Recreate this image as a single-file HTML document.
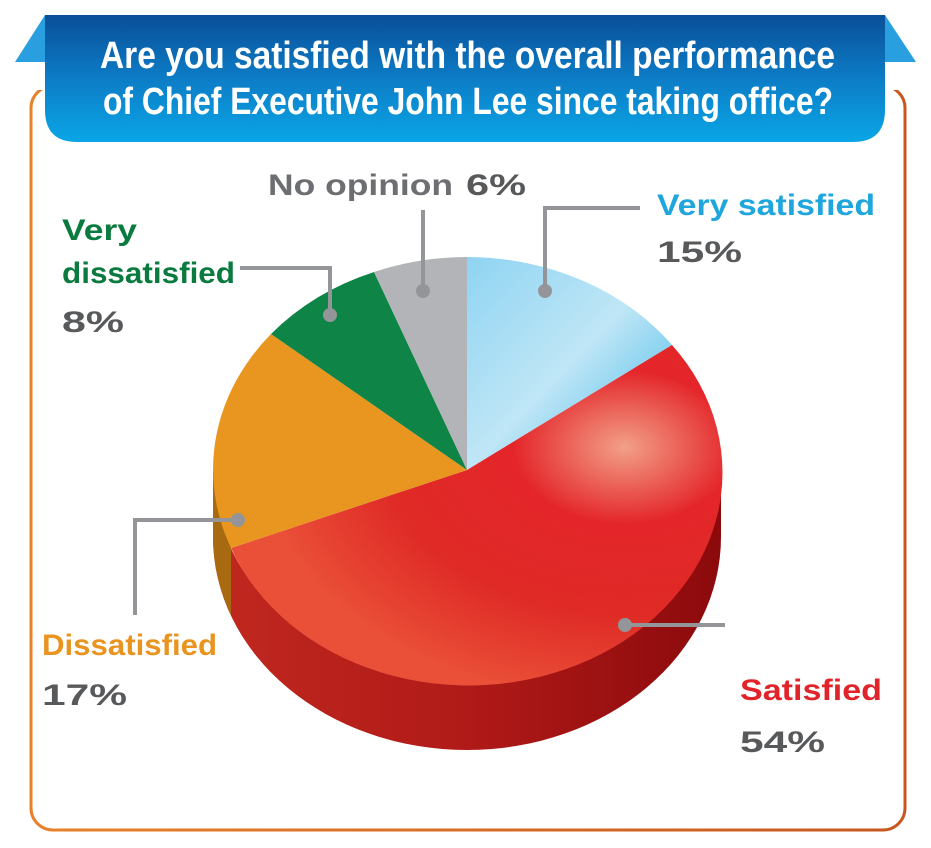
<!DOCTYPE html>
<html><head><meta charset="utf-8"><style>
html,body{margin:0;padding:0;background:#fff;}
svg{display:block;}
</style></head><body>
<svg width="931" height="848" viewBox="0 0 931 848" xmlns="http://www.w3.org/2000/svg">
<defs>
<linearGradient id="frame" x1="0" x2="1" y1="0" y2="0"><stop offset="0" stop-color="#e8812a"/><stop offset="1" stop-color="#c8571f"/></linearGradient>
<linearGradient id="ban" x1="0" x2="0" y1="0" y2="1"><stop offset="0" stop-color="#0a4f98"/><stop offset="0.5" stop-color="#0c7cc6"/><stop offset="1" stop-color="#0aa6e6"/></linearGradient>
<radialGradient id="red" cx="0.8" cy="0.3" r="0.75"><stop offset="0" stop-color="#f2a088"/><stop offset="0.3" stop-color="#e4262a"/><stop offset="0.65" stop-color="#df2a26"/><stop offset="1" stop-color="#ea5038"/></radialGradient>
<linearGradient id="blue" x1="0" x2="1" y1="0" y2="1"><stop offset="0" stop-color="#8fd4f2"/><stop offset="0.5" stop-color="#bfe6f6"/><stop offset="1" stop-color="#3bb6e6"/></linearGradient>
<linearGradient id="side" x1="0" x2="1"><stop offset="0" stop-color="#c0281f"/><stop offset="0.5" stop-color="#b01a18"/><stop offset="1" stop-color="#8c0a0c"/></linearGradient>
</defs>
<rect x="31" y="86" width="874" height="744" rx="22" fill="none" stroke="url(#frame)" stroke-width="3"/>
<rect x="20" y="60" width="890" height="30" fill="#fff"/>
<polygon points="15,62 45,15 45,62" fill="#2a9fe0"/>
<polygon points="916,62 885,15 885,62" fill="#2a9fe0"/>
<path d="M45,15 H885 V110 Q885,142 853,142 H77 Q45,142 45,110 Z" fill="url(#ban)"/>
<g font-family="'Liberation Sans Narrow','Liberation Sans',sans-serif" font-weight="bold" fill="#fff" font-size="38">
<text x="100" y="68" textLength="735" lengthAdjust="spacingAndGlyphs">Are you satisfied with the overall performance</text>
<text x="103" y="114" textLength="730" lengthAdjust="spacingAndGlyphs">of Chief Executive John Lee since taking office?</text>
</g>
<path d="M721,470 A254,213 0 0 1 213,470 L213,537 A254,213 0 0 0 721,537 Z" fill="url(#side)"/>
<path d="M231,548 A254,213 0 0 0 213,470 L213,537 A254,213 0 0 0 231,615 Z" fill="#a86a10"/>
<path d="M467,470 L467,257 A254,213 0 0 1 672,345 Z" fill="url(#blue)"/>
<path d="M467,470 L672,345 A254,213 0 1 1 231,548 Z" fill="url(#red)"/>
<path d="M467,470 L231,548 A254,213 0 0 1 271,334 Z" fill="#e8961f"/>
<path d="M467,470 L271,334 A254,213 0 0 1 374,272 Z" fill="#0e8446"/>
<path d="M467,470 L374,272 A254,213 0 0 1 467,257 Z" fill="#b3b4b7"/>
<g stroke="#939598" stroke-width="4" fill="none">
<polyline points="545,291 545,208 640,208"/>
<polyline points="423,291 423,210"/>
<polyline points="330,315 330,268 240,268"/>
<polyline points="238,520 135,520 135,615"/>
<polyline points="625,625 725,625"/>
</g>
<g fill="#939598"><circle cx="545" cy="291" r="7"/><circle cx="423" cy="291" r="7"/><circle cx="330" cy="315" r="7"/><circle cx="238" cy="520" r="7"/><circle cx="625" cy="625" r="7"/></g>
<g font-family="'Liberation Sans',sans-serif" font-weight="bold" font-size="30">
<text x="268" y="195" fill="#6d6e71" textLength="185" lengthAdjust="spacingAndGlyphs">No opinion</text>
<text x="466" y="195" fill="#58595b" textLength="60" lengthAdjust="spacingAndGlyphs">6%</text>
<text x="657" y="215" fill="#1fa6dc" textLength="218" lengthAdjust="spacingAndGlyphs">Very satisfied</text>
<text x="657" y="262" fill="#58595b" textLength="85" lengthAdjust="spacingAndGlyphs">15%</text>
<text x="62" y="240" fill="#0a7a3e" textLength="75" lengthAdjust="spacingAndGlyphs">Very</text>
<text x="62" y="283" fill="#0a7a3e" textLength="173" lengthAdjust="spacingAndGlyphs">dissatisfied</text>
<text x="62" y="332" fill="#58595b" textLength="62" lengthAdjust="spacingAndGlyphs">8%</text>
<text x="42" y="655" fill="#e8941f" textLength="175" lengthAdjust="spacingAndGlyphs">Dissatisfied</text>
<text x="42" y="705" fill="#58595b" textLength="85" lengthAdjust="spacingAndGlyphs">17%</text>
<text x="740" y="700" fill="#e0242a" textLength="142" lengthAdjust="spacingAndGlyphs">Satisfied</text>
<text x="740" y="752" fill="#58595b" textLength="85" lengthAdjust="spacingAndGlyphs">54%</text>
</g>
</svg>
</body></html>
